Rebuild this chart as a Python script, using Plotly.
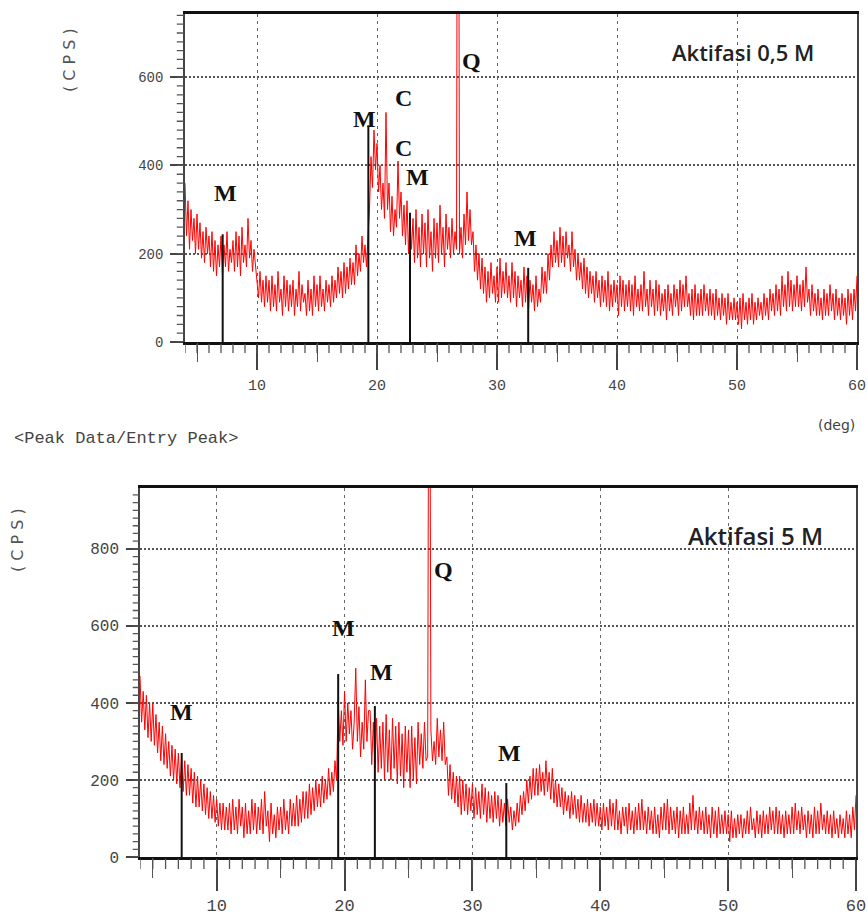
import plotly.graph_objects as go

W, H = 868, 920

# 2-theta grid (deg), 0.125 deg step from 4 to 60
STEP = 0.125
N = 449
two_theta = [round(4 + STEP * i, 3) for i in range(N)]

# Intensity (CPS), 8 values per degree (rows = 4, 5, ..., 59 deg, then 60)
cps_05M = [
    360, 240, 320, 210, 300, 230, 280, 200,   # 4
    290, 210, 270, 190, 250, 180, 260, 200,   # 5
    240, 170, 250, 160, 230, 150, 220, 170,   # 6
    240, 150, 220, 170, 250, 160, 210, 180,   # 7
    230, 160, 250, 170, 240, 150, 260, 180,   # 8
    220, 170, 280, 190, 230, 160, 210, 170,   # 9
    150, 100, 160, 90, 140, 80, 150, 90,      # 10
    140, 70, 150, 80, 130, 70, 160, 90,       # 11
    120, 60, 150, 80, 140, 70, 130, 80,       # 12
    140, 60, 120, 80, 160, 70, 130, 90,       # 13
    110, 60, 140, 70, 120, 60, 150, 80,       # 14
    130, 70, 150, 80, 120, 70, 140, 90,       # 15
    130, 80, 150, 90, 140, 100, 170, 110,     # 16
    160, 100, 180, 110, 170, 120, 190, 130,   # 17
    180, 130, 220, 150, 200, 160, 240, 180,   # 18
    220, 170, 240, 300, 420, 350, 480, 390,   # 19
    450, 340, 400, 300, 360, 280, 520, 300,   # 20
    360, 250, 330, 240, 300, 260, 410, 280,   # 21
    340, 240, 310, 220, 320, 200, 290, 210,   # 22
    280, 180, 300, 190, 260, 170, 290, 200,   # 23
    270, 170, 300, 190, 250, 160, 280, 190,   # 24
    270, 180, 310, 200, 260, 170, 290, 210,   # 25
    260, 190, 280, 200, 250, 210, 2000, 200,  # 26
    260, 190, 290, 220, 340, 230, 300, 220,   # 27
    250, 160, 220, 140, 200, 120, 190, 110,   # 28
    170, 90, 160, 100, 180, 110, 150, 90,     # 29
    170, 90, 190, 100, 160, 110, 180, 100,    # 30
    150, 90, 180, 100, 160, 80, 150, 100,     # 31
    140, 80, 170, 90, 150, 70, 140, 90,       # 32
    130, 70, 150, 80, 120, 90, 170, 110,      # 33
    160, 110, 200, 140, 220, 170, 250, 180,   # 34
    230, 170, 260, 180, 240, 170, 250, 190,   # 35
    220, 160, 250, 170, 210, 140, 200, 140,   # 36
    180, 120, 190, 110, 170, 100, 160, 110,   # 37
    150, 90, 160, 100, 140, 80, 150, 90,      # 38
    140, 80, 160, 70, 130, 80, 140, 90,       # 39
    130, 60, 150, 80, 140, 70, 130, 80,       # 40
    140, 70, 130, 60, 150, 80, 120, 70,       # 41
    130, 70, 160, 80, 120, 60, 140, 80,       # 42
    120, 60, 140, 70, 130, 60, 110, 70,       # 43
    120, 50, 130, 70, 110, 60, 130, 80,       # 44
    120, 60, 140, 70, 130, 80, 150, 80,       # 45
    110, 60, 120, 50, 130, 60, 110, 60,       # 46
    120, 60, 130, 70, 110, 60, 120, 60,       # 47
    110, 50, 120, 60, 100, 50, 110, 60,       # 48
    100, 40, 110, 50, 90, 50, 100, 50,        # 49
    90, 40, 100, 30, 110, 50, 90, 40,         # 50
    100, 50, 110, 40, 90, 50, 100, 60,        # 51
    90, 50, 110, 60, 100, 50, 120, 70,        # 52
    110, 60, 130, 70, 120, 60, 150, 80,       # 53
    130, 70, 160, 80, 140, 70, 130, 80,       # 54
    150, 80, 130, 70, 140, 80, 170, 90,       # 55
    120, 60, 130, 70, 110, 60, 120, 60,       # 56
    100, 50, 120, 60, 110, 60, 130, 70,       # 57
    110, 50, 120, 60, 100, 50, 110, 60,       # 58
    100, 40, 120, 60, 110, 50, 120, 70,       # 59
    150,                                      # 60
]

cps_5M = [
    470, 350, 430, 330, 420, 310, 400, 300,   # 4
    400, 290, 370, 270, 350, 250, 340, 240,   # 5
    320, 230, 300, 210, 290, 200, 280, 190,   # 6
    270, 180, 260, 170, 250, 160, 240, 160,   # 7
    230, 140, 220, 130, 210, 130, 200, 120,   # 8
    190, 110, 180, 100, 170, 100, 160, 90,    # 9
    150, 80, 140, 70, 140, 70, 130, 70,       # 10
    140, 60, 150, 70, 130, 60, 150, 80,       # 11
    130, 50, 140, 60, 120, 60, 150, 70,       # 12
    140, 60, 130, 70, 150, 60, 170, 80,       # 13
    120, 40, 140, 60, 110, 50, 130, 70,       # 14
    130, 60, 150, 70, 120, 60, 150, 80,       # 15
    140, 80, 160, 80, 150, 90, 170, 100,      # 16
    170, 100, 190, 110, 180, 120, 200, 130,   # 17
    190, 130, 210, 140, 200, 150, 230, 160,   # 18
    220, 170, 250, 200, 410, 300, 380, 290,   # 19
    430, 300, 400, 320, 380, 280, 350, 490,   # 20
    300, 390, 260, 350, 280, 460, 300, 380,   # 21
    380, 240, 350, 230, 360, 220, 340, 230,   # 22
    350, 200, 370, 220, 330, 200, 360, 230,   # 23
    340, 190, 350, 210, 320, 180, 340, 220,   # 24
    330, 180, 340, 200, 310, 190, 350, 240,   # 25
    320, 230, 350, 250, 260, 2000, 330, 250,  # 26
    300, 240, 360, 260, 330, 250, 350, 240,   # 27
    260, 160, 240, 150, 220, 140, 210, 130,   # 28
    210, 110, 200, 120, 190, 110, 180, 120,   # 29
    190, 100, 180, 110, 170, 100, 190, 110,   # 30
    180, 90, 170, 100, 160, 90, 170, 100,     # 31
    160, 80, 150, 90, 140, 80, 150, 90,       # 32
    130, 70, 120, 80, 140, 90, 160, 110,      # 33
    170, 120, 200, 140, 210, 150, 230, 160,   # 34
    230, 160, 240, 170, 220, 160, 250, 170,   # 35
    220, 150, 230, 140, 200, 130, 190, 130,   # 36
    180, 110, 170, 120, 160, 100, 170, 110,   # 37
    160, 100, 150, 90, 160, 90, 140, 90,      # 38
    150, 80, 140, 90, 150, 80, 140, 80,       # 39
    130, 70, 140, 80, 130, 70, 150, 80,       # 40
    140, 70, 150, 70, 120, 60, 130, 80,       # 41
    130, 60, 140, 70, 120, 60, 130, 70,       # 42
    140, 70, 150, 70, 120, 60, 130, 70,       # 43
    120, 60, 130, 60, 110, 50, 130, 70,       # 44
    140, 70, 150, 60, 130, 70, 120, 60,       # 45
    130, 50, 120, 60, 130, 60, 110, 60,       # 46
    140, 70, 160, 70, 120, 60, 130, 70,       # 47
    120, 60, 130, 60, 110, 50, 130, 60,       # 48
    120, 50, 130, 60, 110, 60, 120, 60,       # 49
    110, 40, 120, 50, 100, 50, 110, 60,       # 50
    110, 50, 100, 60, 120, 60, 130, 70,       # 51
    100, 50, 120, 60, 110, 50, 120, 60,       # 52
    110, 60, 130, 70, 120, 60, 130, 60,       # 53
    120, 60, 110, 50, 120, 60, 110, 60,       # 54
    130, 60, 140, 70, 120, 60, 130, 70,       # 55
    110, 50, 120, 60, 110, 50, 130, 60,       # 56
    120, 60, 140, 70, 110, 60, 120, 60,       # 57
    110, 50, 120, 60, 100, 50, 110, 60,       # 58
    100, 50, 120, 60, 110, 50, 130, 70,       # 59
    160,                                      # 60
]

# Reference (entry) peak sticks
stick_pos_05M = [7.14, 19.28, 22.75, 32.6]
stick_cps_05M = [244, 491, 293, 168]
stick_pos_5M = [7.26, 19.5, 22.37, 32.65]
stick_cps_5M = [270, 475, 392, 192]

# axis tick positions
x_major = [10, 20, 30, 40, 50, 60]
x_mid = [5, 15, 25, 35, 45, 55]
x_minor = list(range(4, 61))
y_major_top = [0, 200, 400, 600]
y_major_bot = [0, 200, 400, 600, 800]
y_minor_top = list(range(0, 744, 20))
y_minor_bot = list(range(0, 959, 20))

TOP = dict(l=185, r=857, t=14, b=342)
BOT = dict(l=140, r=856, t=488, b=857)
YR_TOP = [0, 743]
YR_BOT = [0, 958]
XR = [4, 60]


def sticks(pos, hts):
    xs, ys = [], []
    for p, h in zip(pos, hts):
        xs += [p, p, None]
        ys += [0, h, None]
    return xs, ys


def P(px, py):
    return px / W, 1 - py / H


fig = go.Figure()

fig.add_trace(go.Scatter(x=two_theta[:len(cps_05M)], y=cps_05M, mode="lines",
                         line=dict(color="#ff0000", width=1), xaxis="x", yaxis="y",
                         showlegend=False, hoverinfo="skip"))
sx, sy = sticks(stick_pos_05M, stick_cps_05M)
fig.add_trace(go.Scatter(x=sx, y=sy, mode="lines", line=dict(color="#111", width=2),
                         xaxis="x", yaxis="y", showlegend=False, hoverinfo="skip"))

fig.add_trace(go.Scatter(x=two_theta[:len(cps_5M)], y=cps_5M, mode="lines",
                         line=dict(color="#ff0000", width=1), xaxis="x2", yaxis="y2",
                         showlegend=False, hoverinfo="skip"))
sx, sy = sticks(stick_pos_5M, stick_cps_5M)
fig.add_trace(go.Scatter(x=sx, y=sy, mode="lines", line=dict(color="#111", width=2),
                         xaxis="x2", yaxis="y2", showlegend=False, hoverinfo="skip"))

# empty traces to register overlay tick-only axes (5-degree ticks)
for xa, ya in [("x3", "y"), ("x4", "y2")]:
    fig.add_trace(go.Scatter(x=[], y=[], xaxis=xa, yaxis=ya, showlegend=False, hoverinfo="skip"))

# minor tick marks drawn in thin hidden "strip" subplots next to each axis
tick_line = dict(color="#555", width=1.3)


def vsegs(vals):
    xs, ys = [], []
    for v in vals:
        xs += [v, v, None]
        ys += [0, 1, None]
    return xs, ys


def hsegs(vals):
    xs, ys = [], []
    for v in vals:
        xs += [0, 1, None]
        ys += [v, v, None]
    return xs, ys


tx, ty = vsegs(x_minor)
fig.add_trace(go.Scatter(x=tx, y=ty, mode="lines", line=tick_line, xaxis="x5", yaxis="y5",
                         showlegend=False, hoverinfo="skip"))
fig.add_trace(go.Scatter(x=tx, y=ty, mode="lines", line=tick_line, xaxis="x6", yaxis="y6",
                         showlegend=False, hoverinfo="skip"))
hx, hy = hsegs(y_minor_top)
fig.add_trace(go.Scatter(x=hx, y=hy, mode="lines", line=tick_line, xaxis="x7", yaxis="y7",
                         showlegend=False, hoverinfo="skip"))
hx, hy = hsegs(y_minor_bot)
fig.add_trace(go.Scatter(x=hx, y=hy, mode="lines", line=tick_line, xaxis="x8", yaxis="y8",
                         showlegend=False, hoverinfo="skip"))

tick_font_top = dict(family="Liberation Mono", size=15, color="#444")
tick_font_bot = dict(family="Liberation Mono", size=17, color="#444")


def xax(dom, font, ticklen, standoff):
    return dict(type="linear", domain=dom, range=XR, tickmode="array", tickvals=x_major,
                ticks="outside", ticklen=ticklen, tickwidth=1.5, tickcolor="#444",
                showline=True, linewidth=3, linecolor="#111", mirror=True,
                showgrid=True, gridcolor="#666", gridwidth=1.3, griddash="3px,4px",
                zeroline=False, tickfont=font, ticklabelstandoff=standoff)


def yax(dom, rng, vals, font, ticklen):
    return dict(type="linear", domain=dom, range=rng, tickmode="array", tickvals=vals,
                ticks="outside", ticklen=ticklen, tickwidth=1.5, tickcolor="#444",
                showline=True, linewidth=1.5, linecolor="#444", mirror=True,
                showgrid=True, gridcolor="#555", gridwidth=1.5, griddash="2px,2px",
                zeroline=False, tickfont=font, ticklabelstandoff=4)


def xtick_only(over, anchor, vals, ticklen):
    return dict(type="linear", overlaying=over, anchor=anchor, range=XR, ticks="outside",
                tickmode="array", tickvals=vals, ticklen=ticklen, tickwidth=1.3,
                tickcolor="#555", showticklabels=False, showgrid=False, showline=False,
                zeroline=False, side="bottom")


def hidden(dom, rng, anchor):
    return dict(type="linear", domain=dom, range=rng, anchor=anchor, visible=False,
                fixedrange=True)


xdom_top = [TOP["l"] / W, TOP["r"] / W]
ydom_top = [1 - TOP["b"] / H, 1 - TOP["t"] / H]
xdom_bot = [BOT["l"] / W, BOT["r"] / W]
ydom_bot = [1 - BOT["b"] / H, 1 - BOT["t"] / H]

fig.update_layout(
    width=W, height=H, margin=dict(l=0, r=0, t=0, b=0, autoexpand=False),
    paper_bgcolor="white", plot_bgcolor="rgba(0,0,0,0)",
    xaxis=dict(**xax(xdom_top, tick_font_top, 25, 2), anchor="y"),
    yaxis=dict(**yax(ydom_top, YR_TOP, y_major_top,
                     dict(family="Liberation Mono", size=14, color="#444"), 13), anchor="x"),
    xaxis2=dict(**xax(xdom_bot, tick_font_bot, 31, 0), anchor="y2"),
    yaxis2=dict(**yax(ydom_bot, YR_BOT, y_major_bot,
                      dict(family="Liberation Mono", size=16, color="#444"), 12), anchor="x2"),
    xaxis3=xtick_only("x", "y", x_mid, 19),
    xaxis4=xtick_only("x2", "y2", x_mid, 20),
    # strip under top x-axis (1 deg ticks, ~9 px)
    xaxis5=hidden(xdom_top, XR, "y5"),
    yaxis5=hidden([1 - (TOP["b"] + 11) / H, 1 - (TOP["b"] + 1.5) / H], [0, 1], "x5"),
    # strip under bottom x-axis
    xaxis6=hidden(xdom_bot, XR, "y6"),
    yaxis6=hidden([1 - (BOT["b"] + 12) / H, 1 - (BOT["b"] + 1.5) / H], [0, 1], "x6"),
    # strip left of top y-axis (20 CPS ticks)
    xaxis7=hidden([(TOP["l"] - 8.5) / W, (TOP["l"] - 0.75) / W], [0, 1], "y7"),
    yaxis7=hidden(ydom_top, YR_TOP, "x7"),
    # strip left of bottom y-axis
    xaxis8=hidden([(BOT["l"] - 7.5) / W, (BOT["l"] - 0.75) / W], [0, 1], "y8"),
    yaxis8=hidden(ydom_bot, YR_BOT, "x8"),
)

ann = []
lab_font = dict(family="Liberation Serif", size=24, color="#111", weight="bold")
for t, px, py in [("M", 226, 193), ("M", 364, 119), ("C", 403, 98), ("C", 403, 148),
                  ("M", 417, 177), ("Q", 471, 61), ("M", 525, 238),
                  ("M", 181, 712), ("M", 343, 628), ("M", 381, 672), ("Q", 443, 570),
                  ("M", 509, 753)]:
    x, y = P(px, py)
    ann.append(dict(text=t, x=x, y=y, xref="paper", yref="paper", showarrow=False,
                    xanchor="center", yanchor="middle", font=lab_font))

x, y = P(743, 52)
ann.append(dict(text="Aktifasi 0,5 M", x=x, y=y, xref="paper", yref="paper", showarrow=False,
                xanchor="center", yanchor="middle",
                font=dict(family="Open Sans", size=22, color="#222", weight=600)))
x, y = P(755, 535)
ann.append(dict(text="Aktifasi 5 M", x=x, y=y, xref="paper", yref="paper", showarrow=False,
                xanchor="center", yanchor="middle",
                font=dict(family="Open Sans", size=24, color="#222", weight=600)))
x, y = P(836, 425)
ann.append(dict(text="(deg)", x=x, y=y, xref="paper", yref="paper", showarrow=False,
                xanchor="center", yanchor="middle",
                font=dict(family="DejaVu Sans", size=14, color="#444")))
x, y = P(12, 438)
ann.append(dict(text="&lt;Peak Data/Entry Peak&gt;", x=x, y=y, xref="paper", yref="paper",
                showarrow=False, xanchor="left", yanchor="middle",
                font=dict(family="Liberation Mono", size=17, color="#444")))
for px, py in [(70, 60), (17, 540)]:
    x, y = P(px, py)
    ann.append(dict(text="(&nbsp;C&nbsp;P&nbsp;S&nbsp;)", x=x, y=y, xref="paper", yref="paper",
                    showarrow=False, xanchor="center", yanchor="middle", textangle=-90,
                    font=dict(family="DejaVu Sans", size=16, color="#555")))

fig.update_layout(annotations=ann)
fig.write_html("out.html",
               post_script="document.body.style.margin='0';document.body.style.overflow='hidden';")
